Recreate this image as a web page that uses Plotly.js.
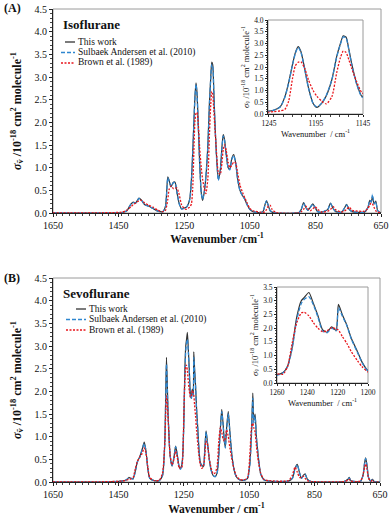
<!DOCTYPE html>
<html>
<head>
<meta charset="utf-8">
<script src="https://cdn.plot.ly/plotly-3.0.1.min.js"></script>
<style>
  html, body { margin: 0; padding: 0; background: #fff; }
  #chart { width: 390px; height: 515px; }
</style>
</head>
<body>
<div id="chart"></div>
<script>
// (A) isoflurane, cross sections in 10^-18 cm2 molecule-1
var isoWn = [1650, 1500, 1440, 1425, 1412, 1405, 1398, 1388, 1380, 1370, 1358, 1345, 1330, 1315, 1307,
  1300, 1296, 1290, 1283, 1278, 1272, 1265, 1258, 1250, 1245, 1240, 1233, 1228, 1224, 1220, 1217, 1214,
  1211, 1207, 1203, 1198, 1194, 1189, 1184, 1178, 1173, 1169, 1166, 1163, 1160, 1157, 1152, 1146, 1140,
  1135, 1131, 1127, 1122, 1116, 1111, 1105, 1099, 1093, 1087, 1080, 1072, 1065, 1058, 1050, 1040, 1020,
  1010, 1003, 999, 993, 988, 982, 970, 900, 893, 886, 879, 873, 866, 858, 851, 843, 830, 812, 804, 796,
  788, 770, 762, 755, 747, 738, 700, 690, 684, 680, 676, 671, 666, 660, 650];
var isoThisWork = [0, 0, 0.01, 0.05, 0.2, 0.24, 0.22, 0.33, 0.28, 0.18, 0.15, 0.1, 0.04, 0.03, 0.15,
  0.8, 0.72, 0.58, 0.68, 0.68, 0.45, 0.2, 0.09, 0.11, 0.12, 0.16, 0.31, 0.74, 1.35, 2.1, 2.6, 2.87,
  2.66, 1.93, 1.12, 0.45, 0.28, 0.45, 0.78, 1.48, 2.44, 3.0, 3.33, 3.27, 2.75, 2.14, 1.33, 0.74, 0.95,
  1.45, 1.73, 1.62, 1.3, 1.0, 0.97, 1.2, 1.29, 1.1, 0.75, 0.5, 0.38, 0.3, 0.18, 0.08, 0.03, 0.01,
  0.03, 0.2, 0.27, 0.15, 0.05, 0.02, 0, 0.01, 0.08, 0.23, 0.12, 0.06, 0.12, 0.2, 0.12, 0.03, 0.02, 0.08, 0.22, 0.1,
  0.03, 0.02, 0.1, 0.19, 0.08, 0.03, 0.02, 0.12, 0.28, 0.24, 0.36, 0.2, 0.26, 0.05, 0];
var isoSulbaek = [0, 0, 0.01, 0.05, 0.2, 0.23, 0.22, 0.32, 0.28, 0.18, 0.15, 0.1, 0.04, 0.03, 0.14,
  0.78, 0.7, 0.58, 0.67, 0.67, 0.45, 0.2, 0.09, 0.1, 0.12, 0.16, 0.3, 0.72, 1.33, 2.08, 2.57, 2.84,
  2.63, 1.9, 1.1, 0.44, 0.3, 0.46, 0.8, 1.47, 2.42, 2.97, 3.28, 3.24, 2.72, 2.1, 1.3, 0.72, 0.93,
  1.42, 1.7, 1.6, 1.28, 1.0, 0.95, 1.18, 1.27, 1.1, 0.74, 0.49, 0.38, 0.3, 0.18, 0.08, 0.03, 0.01,
  0.03, 0.2, 0.27, 0.15, 0.05, 0.02, 0, 0.01, 0.08, 0.22, 0.12, 0.06, 0.12, 0.19, 0.12, 0.03, 0.02, 0.08, 0.21, 0.1,
  0.03, 0.02, 0.1, 0.18, 0.08, 0.03, 0.02, 0.12, 0.28, 0.24, 0.41, 0.2, 0.25, 0.05, 0];
var isoBrown = [0, 0.005, 0.02, 0.06, 0.14, 0.19, 0.22, 0.27, 0.28, 0.22, 0.17, 0.13, 0.06, 0.03, 0.06,
  0.3, 0.52, 0.6, 0.54, 0.55, 0.55, 0.4, 0.18, 0.1, 0.08, 0.1, 0.13, 0.2, 0.55, 1.5, 2.05, 2.2,
  2.22, 1.95, 1.45, 1.0, 0.75, 0.55, 0.43, 0.75, 1.75, 2.4, 2.68, 2.62, 2.3, 1.94, 1.4, 0.9, 0.85,
  1.1, 1.4, 1.5, 1.38, 1.12, 1.0, 1.05, 1.12, 1.1, 0.88, 0.62, 0.45, 0.33, 0.22, 0.1, 0.05, 0.02,
  0.01, 0.03, 0.08, 0.16, 0.17, 0.08, 0.01, 0, 0.03, 0.08, 0.15, 0.1, 0.05, 0.09, 0.14, 0.08, 0.02, 0.04, 0.08, 0.14,
  0.07, 0.02, 0.04, 0.08, 0.13, 0.06, 0.04, 0.1, 0.18, 0.22, 0.2, 0.12, 0.05, 0.02, 0];

// (B) sevoflurane
var sevoWn = [1650, 1500, 1440, 1425, 1418, 1412, 1405, 1398, 1392, 1385, 1378, 1371, 1366, 1360, 1354,
  1340, 1325, 1315, 1308, 1303, 1298, 1292, 1286, 1280, 1275, 1270, 1264, 1260, 1256, 1253, 1250, 1247,
  1244, 1242, 1239, 1236, 1233, 1230, 1227, 1224, 1221, 1219.5, 1217, 1214, 1211, 1207, 1204, 1200, 1195,
  1190, 1186, 1182, 1178, 1172, 1166, 1160, 1154, 1148, 1143, 1138, 1134, 1130, 1126, 1123, 1119, 1114,
  1109, 1103, 1097, 1090, 1080, 1065, 1055, 1048, 1043, 1039, 1036, 1032, 1028, 1022, 1015, 1005, 990,
  930, 918, 910, 903, 896, 890, 884, 879, 872, 860, 760, 748, 744, 739, 710, 702, 697, 694, 690, 685,
  678, 673, 668, 650];
var sevoThisWork = [0, 0, 0.02, 0.05, 0.1, 0.08, 0.07, 0.25, 0.45, 0.55, 0.7, 0.88, 0.7, 0.3, 0.08,
  0.03, 0.03, 0.15, 0.9, 2.75, 1.5, 0.6, 0.35, 0.55, 0.79, 0.6, 0.33, 0.3, 0.38, 0.62, 1.3, 2.4,
  3.0, 3.12, 3.3, 2.9, 2.45, 1.95, 1.85, 2.05, 1.92, 2.87, 2.5, 2.12, 1.63, 1.15, 0.77, 0.45, 0.37,
  0.34, 0.7, 1.13, 0.9, 0.5, 0.25, 0.14, 0.12, 0.2, 0.6, 1.2, 1.6, 1.3, 0.9, 0.78, 1.2, 1.56,
  1.1, 0.6, 0.3, 0.12, 0.05, 0.04, 0.08, 0.4, 1.1, 1.96, 1.35, 1.5, 1.0, 0.55, 0.18, 0.05, 0.02,
  0.02, 0.08, 0.3, 0.39, 0.2, 0.08, 0.15, 0.18, 0.06, 0.01, 0.01, 0.06, 0.1, 0.03, 0.01, 0.15, 0.42, 0.53, 0.38, 0.1,
  0.02, 0.06, 0.01, 0];
var sevoSulbaek = [0, 0, 0.02, 0.05, 0.09, 0.08, 0.07, 0.24, 0.44, 0.54, 0.7, 0.85, 0.7, 0.3, 0.08,
  0.03, 0.03, 0.14, 0.88, 2.6, 1.5, 0.6, 0.35, 0.55, 0.78, 0.6, 0.32, 0.28, 0.37, 0.6, 1.25, 2.3,
  2.9, 3.05, 3.15, 2.85, 2.4, 1.9, 1.83, 2.0, 1.9, 2.75, 2.45, 2.1, 1.6, 1.12, 0.75, 0.43, 0.36,
  0.34, 0.68, 1.1, 0.88, 0.5, 0.25, 0.14, 0.12, 0.2, 0.58, 1.15, 1.55, 1.28, 0.9, 0.75, 1.15, 1.5,
  1.08, 0.6, 0.3, 0.12, 0.05, 0.04, 0.08, 0.38, 1.05, 1.85, 1.3, 1.45, 0.98, 0.55, 0.18, 0.05, 0.02,
  0.02, 0.08, 0.28, 0.38, 0.2, 0.08, 0.14, 0.17, 0.06, 0.01, 0.01, 0.06, 0.09, 0.03, 0.01, 0.14, 0.42, 0.52, 0.37, 0.1,
  0.02, 0.06, 0.01, 0];
var sevoBrown = [0, 0.005, 0.02, 0.04, 0.06, 0.07, 0.1, 0.3, 0.45, 0.55, 0.62, 0.75, 0.65, 0.32, 0.1,
  0.03, 0.04, 0.2, 0.9, 1.9, 1.4, 0.6, 0.38, 0.5, 0.68, 0.55, 0.3, 0.33, 0.32, 0.6, 1.45, 2.2,
  2.55, 2.58, 2.45, 2.2, 2.0, 1.87, 1.9, 2.02, 1.97, 1.93, 1.7, 1.45, 1.14, 0.82, 0.6, 0.4, 0.3,
  0.35, 0.55, 0.9, 0.85, 0.5, 0.3, 0.18, 0.2, 0.35, 0.9, 1.2, 1.1, 0.95, 0.9, 0.95, 1.15, 1.0,
  0.75, 0.5, 0.3, 0.15, 0.06, 0.05, 0.1, 0.6, 1.2, 1.3, 1.2, 1.1, 0.8, 0.45, 0.2, 0.06, 0.03,
  0.03, 0.15, 0.33, 0.22, 0.1, 0.1, 0.13, 0.08, 0.03, 0.01, 0.01, 0.04, 0.06, 0.02, 0.02, 0.15, 0.32, 0.4, 0.3, 0.08,
  0.02, 0.04, 0, 0];

var seriesNames = ['This work', 'Sulbaek Andersen et al. (2010)', 'Brown et al. (1989)'];
var seriesColors = ['#333333', '#2e86cf', '#e8151b'];
var seriesDash = ['solid', '4px,2px', '2px,1.5px'];
var seriesWidth = [1.2, 1.3, 1.3];

var serif = 'Liberation Serif, Times New Roman, serif';
var ytitle = '<i>σ</i><sub>ṽ</sub> /10<sup>-18</sup> cm<sup>2</sup> molecule<sup>-1</sup>';

function px(x) { return x / 390; }
function py(y) { return 1 - y / 515; }

function spectrum(wn, vals, i, xa, ya) {
  return {
    x: wn, y: vals, xaxis: xa, yaxis: ya, type: 'scatter', mode: 'lines',
    name: seriesNames[i], showlegend: false, hoverinfo: 'skip',
    line: {color: seriesColors[i], width: seriesWidth[i], dash: seriesDash[i], shape: 'spline', smoothing: 0.6}
  };
}

var data = [];
[['x', 'y'], ['x2', 'y2']].forEach(function (ax) {
  data.push(spectrum(isoWn, isoThisWork, 0, ax[0], ax[1]));
  data.push(spectrum(isoWn, isoSulbaek, 1, ax[0], ax[1]));
  data.push(spectrum(isoWn, isoBrown, 2, ax[0], ax[1]));
});
[['x3', 'y3'], ['x4', 'y4']].forEach(function (ax) {
  data.push(spectrum(sevoWn, sevoThisWork, 0, ax[0], ax[1]));
  data.push(spectrum(sevoWn, sevoSulbaek, 1, ax[0], ax[1]));
  data.push(spectrum(sevoWn, sevoBrown, 2, ax[0], ax[1]));
});

function axis(o) {
  var a = {
    showline: true, linecolor: '#222', linewidth: 1, mirror: false, zeroline: false, showgrid: false,
    ticks: 'outside', ticklen: 3, tickwidth: 1, tickcolor: '#222',
    tickfont: {family: serif, size: o.small ? 7.5 : 10, color: '#111'},
    fixedrange: true
  };
  for (var k in o) if (k !== 'small') a[k] = o[k];
  return a;
}

var layout = {
  width: 390, height: 515,
  margin: {l: 0, r: 0, t: 0, b: 0},
  paper_bgcolor: '#fff', plot_bgcolor: 'rgba(0,0,0,0)',
  showlegend: false,
  font: {family: serif, color: '#111'},

  // (A) main
  xaxis: axis({domain: [px(53), px(381)], anchor: 'y', range: [1650, 650], tick0: 650, dtick: 200,
    minor: {dtick: 20, ticks: 'outside', ticklen: 2, tickcolor: '#444'},
    title: {text: '<b>Wavenumber /cm<sup>-1</sup></b>', font: {family: serif, size: 11.5}, standoff: 2}}),
  yaxis: axis({domain: [py(213), py(9)], anchor: 'x', range: [0, 4.5], dtick: 0.5, tickformat: '.1f',
    minor: {dtick: 0.1, ticks: 'outside', ticklen: 2, tickcolor: '#444'},
    title: {text: '<b>' + ytitle + '</b>', font: {family: serif, size: 12}, standoff: 10}}),
  // (A) inset
  xaxis2: axis({small: true, domain: [px(268), px(363)], anchor: 'y2', range: [1246, 1145], tick0: 1145, dtick: 50,
    minor: {dtick: 10, ticks: 'outside', ticklen: 2, tickcolor: '#444'}, ticklen: 2,
    title: {text: 'Wavenumber  / cm<sup>-1</sup>', font: {family: serif, size: 8.5}, standoff: 2}}),
  yaxis2: axis({small: true, domain: [py(114), py(20)], anchor: 'x2', range: [0, 4], dtick: 0.5, tickformat: '.1f',
    minor: {dtick: 0.1, ticks: 'outside', ticklen: 1.5, tickcolor: '#444'}, ticklen: 2,
    title: {text: ytitle, font: {family: serif, size: 8.5}, standoff: 3}}),
  // (B) main
  xaxis3: axis({domain: [px(53), px(380)], anchor: 'y3', range: [1650, 650], tick0: 650, dtick: 200,
    minor: {dtick: 20, ticks: 'outside', ticklen: 2, tickcolor: '#444'},
    title: {text: '<b>Wavenumber / cm<sup>-1</sup></b>', font: {family: serif, size: 11.5}, standoff: 11}}),
  yaxis3: axis({domain: [py(482), py(278)], anchor: 'x3', range: [0, 4.5], dtick: 0.5, tickformat: '.1f',
    minor: {dtick: 0.1, ticks: 'outside', ticklen: 2, tickcolor: '#444'},
    title: {text: '<b>' + ytitle + '</b>', font: {family: serif, size: 12}, standoff: 10}}),
  // (B) inset
  xaxis4: axis({small: true, domain: [px(277), px(368)], anchor: 'y4', range: [1260, 1200], tick0: 1200, dtick: 20,
    minor: {dtick: 4, ticks: 'outside', ticklen: 2, tickcolor: '#444'}, ticklen: 2,
    title: {text: 'Wavenumber  / cm<sup>-1</sup>', font: {family: serif, size: 8.5}, standoff: 2}}),
  yaxis4: axis({small: true, domain: [py(383), py(287)], anchor: 'x4', range: [0, 3.5], dtick: 0.5, tickformat: '.1f',
    minor: {dtick: 0.1, ticks: 'outside', ticklen: 1.5, tickcolor: '#444'}, ticklen: 2,
    title: {text: ytitle, font: {family: serif, size: 8.5}, standoff: 3}}),

  shapes: [],
  annotations: []
};

// grey frame on top and right of every plot box
[['x', 'y'], ['x2', 'y2'], ['x3', 'y3'], ['x4', 'y4']].forEach(function (ax) {
  layout.shapes.push({type: 'rect', xref: ax[0] + ' domain', yref: ax[1] + ' domain', x0: 0, x1: 1, y0: 0, y1: 1,
    line: {color: '#9a9a9a', width: 1}, layer: 'below'});
});

function note(text, x, y, size, bold) {
  layout.annotations.push({text: bold ? '<b>' + text + '</b>' : text, x: px(x), y: py(y), xref: 'paper', yref: 'paper',
    xanchor: 'left', yanchor: 'middle', showarrow: false, font: {family: serif, size: size, color: '#111'}});
}
note('(A)', 2, 8, 12, true);
note('(B)', 2, 278, 12, true);
note('Isoflurane', 61, 25, 13, true);
note('Sevoflurane', 61, 293, 13, true);

// legend entries, one block per panel
function legendBlock(xLine0, xLine1, xText, yRows) {
  for (var i = 0; i < 3; i++) {
    layout.shapes.push({type: 'line', xref: 'paper', yref: 'paper', x0: px(i === 0 ? xLine1 - 10 : xLine0), x1: px(xLine1),
      y0: py(yRows[i]), y1: py(yRows[i]), line: {color: seriesColors[i], width: 1.3, dash: seriesDash[i]}});
    note(seriesNames[i], xText, yRows[i], 9.5, false);
  }
}
legendBlock(61, 75, 76, [42, 52.5, 63]);
legendBlock(66, 86, 87, [309, 319.5, 330]);

Plotly.newPlot('chart', data, layout, {staticPlot: true, displayModeBar: false});
</script>
</body>
</html>
